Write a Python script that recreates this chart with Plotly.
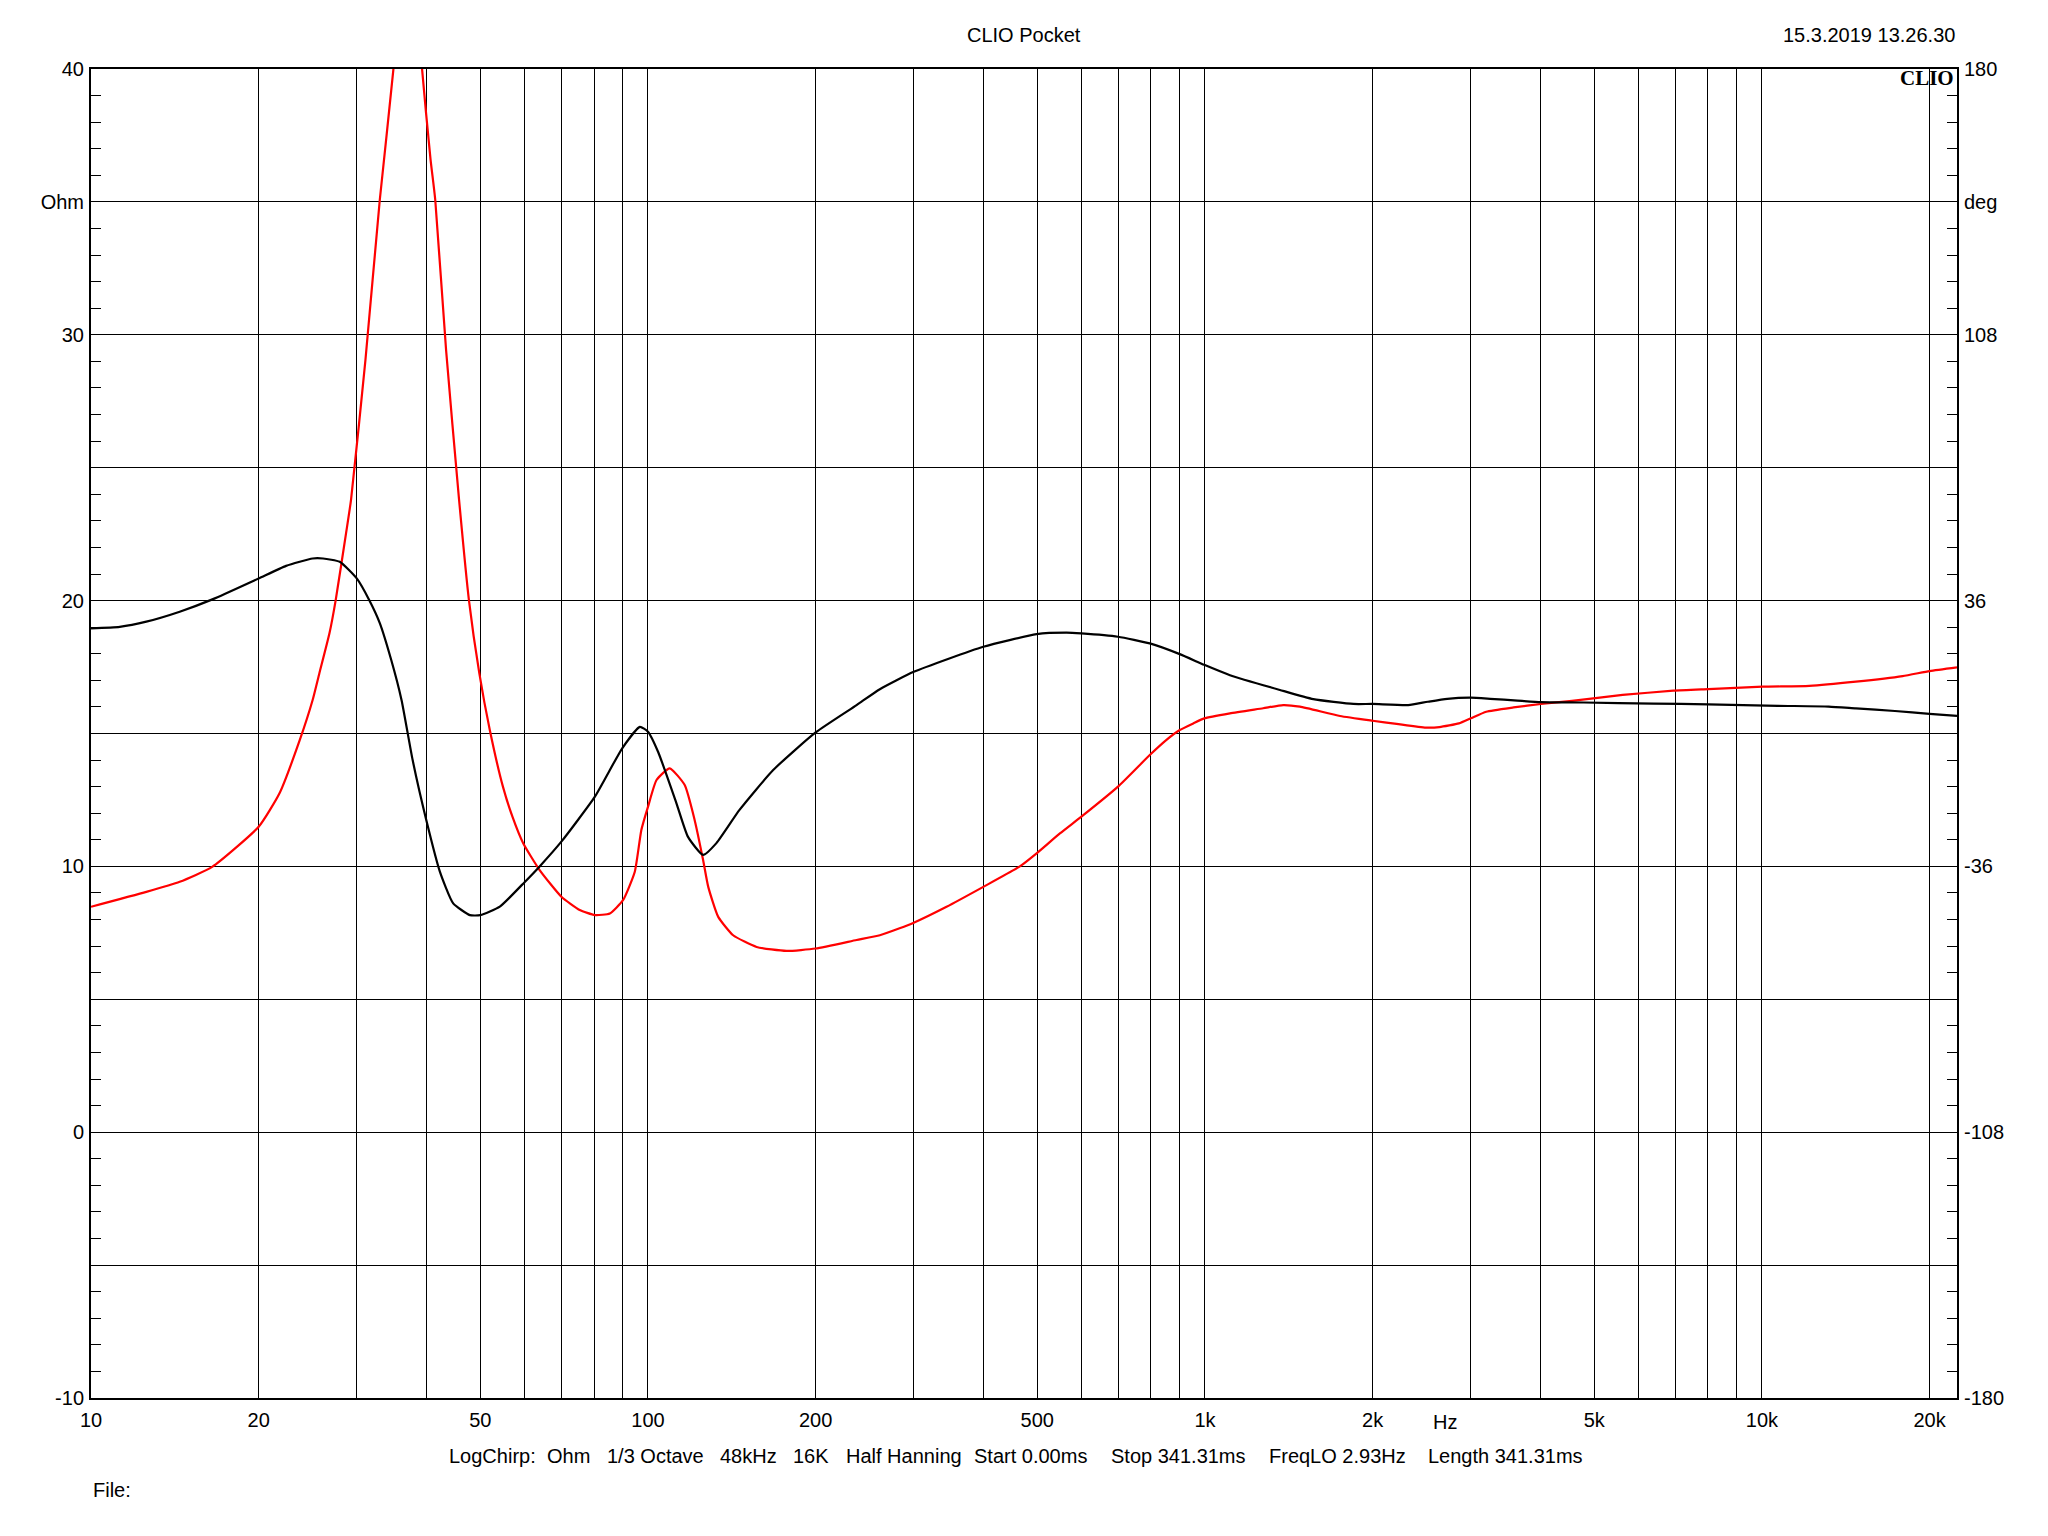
import math
import plotly.graph_objects as go

# ---------------- data ----------------
# Impedance magnitude (red, left axis, Ohm)
red_freq = [10, 12.57, 14.43, 16.5, 20, 21.8, 23.7, 25.0, 25.7, 26.8, 27.5, 28.7, 29.3, 31.1, 33.0, 34.9,
            36.0, 37.0, 38.2, 39.3, 40.7, 41.5, 43.4, 45.8, 47.7, 49.8, 52, 54.9, 57.1, 59.7,
            63.9, 69.9, 75.4, 80.3, 85.4, 90.2, 94.7, 97.3, 100, 103.6, 109.4, 116.4, 121.3,
            125.6, 128.3, 133.7, 142.2, 156.7, 177.3, 200, 236.9, 260.8, 283, 300, 343.6, 400,
            465.3, 498.6, 549, 600, 698, 796, 853, 901, 953, 997, 1109, 1272, 1382, 1481, 1748,
            2000, 2208, 2492, 2636, 2858, 3000, 3199, 3581, 4010, 4560, 5623, 6934, 8007, 10030,
            12160, 14750, 17890, 20000, 22400]
red_ohm = [8.48, 9.04, 9.42, 9.98, 11.49, 12.75, 14.75, 16.26, 17.26, 18.77, 20.02, 22.53, 23.79, 29.06, 35.08, 39.97,
           44.0, 46.0, 44.0, 40.0, 36.6, 35.08, 29.43, 23.79, 20.02, 17.26, 15.13, 13.0, 11.87, 10.87,
           9.86, 8.86, 8.36, 8.17, 8.23, 8.73, 9.8, 11.37, 12.24, 13.25, 13.69, 13.06, 11.74,
           10.24, 9.23, 8.1, 7.41, 6.97, 6.82, 6.91, 7.23, 7.41, 7.67, 7.88, 8.48, 9.23,
           10.0, 10.49, 11.24, 11.87, 13.0, 14.19, 14.76, 15.13, 15.38, 15.57, 15.76, 15.95, 16.07, 16.01, 15.66,
           15.48, 15.36, 15.22, 15.24, 15.38, 15.57, 15.82, 15.98, 16.11, 16.23, 16.45, 16.61, 16.67, 16.76,
           16.79, 16.95, 17.16, 17.35, 17.49]

# Impedance phase (black, right axis, deg)
black_freq = [10, 11.26, 12.57, 14.43, 16.56, 20, 22.4, 25.0, 26.1, 27.96, 30, 31.6, 33.0, 34.6, 36.1,
              37.8, 40.0, 42.3, 44.7, 47.9, 50, 54.2, 60.1, 63.9, 69.9, 80.3, 89.9, 96.7, 100, 104.3,
              112.5, 118, 125.6, 132.7, 146, 167.8, 200, 236.9, 260.8, 300, 400, 498.6, 564, 600,
              698, 796, 901, 997, 1109, 1363, 1565, 1847, 2000, 2317, 2512, 2723, 3000, 3252, 3640,
              4010, 4786, 6390, 8007, 10690, 13180, 14750, 17330, 20000, 22400]
black_deg = [28.5, 28.9, 30.3, 33.0, 36.4, 42.0, 45.4, 47.4, 47.4, 46.5, 42.0, 36.1, 29.9, 19.9, 9.1,
             -7.2, -23.5, -37.4, -46.0, -49.2, -49.2, -46.9, -40.2, -36.0, -29.3, -17.1, -4.0, 1.8, 0.5, -5.0,
             -18.9, -28.0, -32.9, -29.7, -20.7, -9.9, 0.3, 7.7, 12.0, 16.7, 23.5, 26.9, 27.3, 27.1,
             26.2, 24.4, 21.5, 18.6, 15.8, 11.8, 9.3, 8.0, 8.0, 7.7, 8.6, 9.4, 9.7, 9.4, 8.9,
             8.5, 8.4, 8.1, 7.9, 7.5, 7.3, 6.8, 6.1, 5.3, 4.8]

# Axis ticks
x_grid = [10, 20, 30, 40, 50, 60, 70, 80, 90, 100, 200, 300, 400, 500, 600, 700, 800, 900,
          1000, 2000, 3000, 4000, 5000, 6000, 7000, 8000, 9000, 10000, 20000]
x_labels = {10: "10", 20: "20", 50: "50", 100: "100", 200: "200", 500: "500", 1000: "1k",
            2000: "2k", 5000: "5k", 10000: "10k", 20000: "20k"}
y_left_vals = [-10, -5, 0, 5, 10, 15, 20, 25, 30, 35, 40]
y_left_text = ["-10", "", "0", "", "10", "", "20", "", "30", "Ohm", "40"]
y_right_vals = [-180, -108, -36, 36, 108, 144, 180]
y_right_text = ["-180", "-108", "-36", "36", "108", "deg", "180"]

title_text = "CLIO Pocket"
date_text = "15.3.2019 13.26.30"
footer_items = ["LogChirp:", "Ohm", "1/3 Octave", "48kHz", "16K", "Half Hanning",
                "Start 0.00ms", "Stop 341.31ms", "FreqLO 2.93Hz", "Length 341.31ms"]
footer_pos = [0.1906, 0.2431, 0.2753, 0.3361, 0.3753, 0.4034, 0.4720, 0.5454, 0.6301, 0.7155]

FONT = "Arial, Liberation Sans, sans-serif"
FS = 20

fig = go.Figure()
fig.add_trace(go.Scatter(x=black_freq, y=black_deg, yaxis="y2", mode="lines",
                         line=dict(color="#000000", width=2.2, shape="spline", smoothing=0.5),
                         showlegend=False, hoverinfo="skip"))
fig.add_trace(go.Scatter(x=red_freq, y=red_ohm, yaxis="y", mode="lines",
                         line=dict(color="#ff0000", width=2.2, shape="spline", smoothing=0.5),
                         showlegend=False, hoverinfo="skip"))

fig.update_layout(
    width=2032, height=1520,
    margin=dict(l=83, r=83, t=61, b=130, autoexpand=False),
    paper_bgcolor="white", plot_bgcolor="white",
    font=dict(family=FONT, size=FS, color="black"),
    showlegend=False,
    xaxis=dict(
        type="log", range=[1, math.log10(22400)],
        tickmode="array", tickvals=x_grid,
        ticktext=[x_labels.get(v, "") for v in x_grid],
        showgrid=True, gridcolor="black", gridwidth=1,
        showline=True, linecolor="black", linewidth=2, mirror=True,
        ticks="outside", ticklen=0, ticklabelstandoff=3,
        tickfont=dict(family=FONT, size=FS, color="black"),
        zeroline=False, fixedrange=True,
    ),
    yaxis=dict(
        range=[-10, 40], tickmode="array", tickvals=y_left_vals, ticktext=y_left_text,
        showgrid=True, gridcolor="black", gridwidth=1,
        showline=True, linecolor="black", linewidth=2,
        ticks="inside", ticklen=0, ticklabelstandoff=1,
        minor=dict(tickmode="linear", tick0=0, dtick=1, ticks="inside", ticklen=10,
                   tickwidth=1, tickcolor="black", showgrid=False),
        tickfont=dict(family=FONT, size=FS, color="black"),
        zeroline=False, fixedrange=True,
    ),
    yaxis2=dict(
        overlaying="y", side="right",
        range=[-180, 180], tickmode="array", tickvals=y_right_vals, ticktext=y_right_text,
        showgrid=False,
        showline=True, linecolor="black", linewidth=2,
        ticks="inside", ticklen=0, ticklabelstandoff=1,
        minor=dict(tickmode="linear", tick0=-180, dtick=7.2, ticks="inside", ticklen=10,
                   tickwidth=1, tickcolor="black", showgrid=False),
        tickfont=dict(family=FONT, size=FS, color="black"),
        zeroline=False, fixedrange=True,
    ),
)

ann = []
ann.append(dict(text=title_text, xref="paper", yref="paper", x=0.5, y=1.0256,
                xanchor="center", yanchor="middle", showarrow=False,
                font=dict(family=FONT, size=FS, color="black")))
ann.append(dict(text=date_text, xref="paper", yref="paper", x=1.0, y=1.0256,
                xanchor="right", yanchor="middle", showarrow=False,
                font=dict(family=FONT, size=FS, color="black")))
ann.append(dict(text="<b>CLIO</b>", xref="paper", yref="paper", x=0.9995, y=0.9935,
                xanchor="right", yanchor="middle", showarrow=False,
                font=dict(family="Liberation Serif, Times New Roman, serif", size=21, color="black")))
ann.append(dict(text="Hz", xref="paper", yref="paper", x=0.7254, y=-0.0178,
                xanchor="center", yanchor="middle", showarrow=False,
                font=dict(family=FONT, size=FS, color="black")))
for t, xp in zip(footer_items, footer_pos):
    ann.append(dict(text=t, xref="paper", yref="paper", x=xp, y=-0.0436,
                    xanchor="left", yanchor="middle", showarrow=False,
                    font=dict(family=FONT, size=FS, color="black")))
ann.append(dict(text="File:", xref="paper", yref="paper", x=0.0, y=-0.0692,
                xanchor="left", yanchor="middle", showarrow=False,
                font=dict(family=FONT, size=FS, color="black")))
fig.update_layout(annotations=ann)

fig.write_html("out.html")
